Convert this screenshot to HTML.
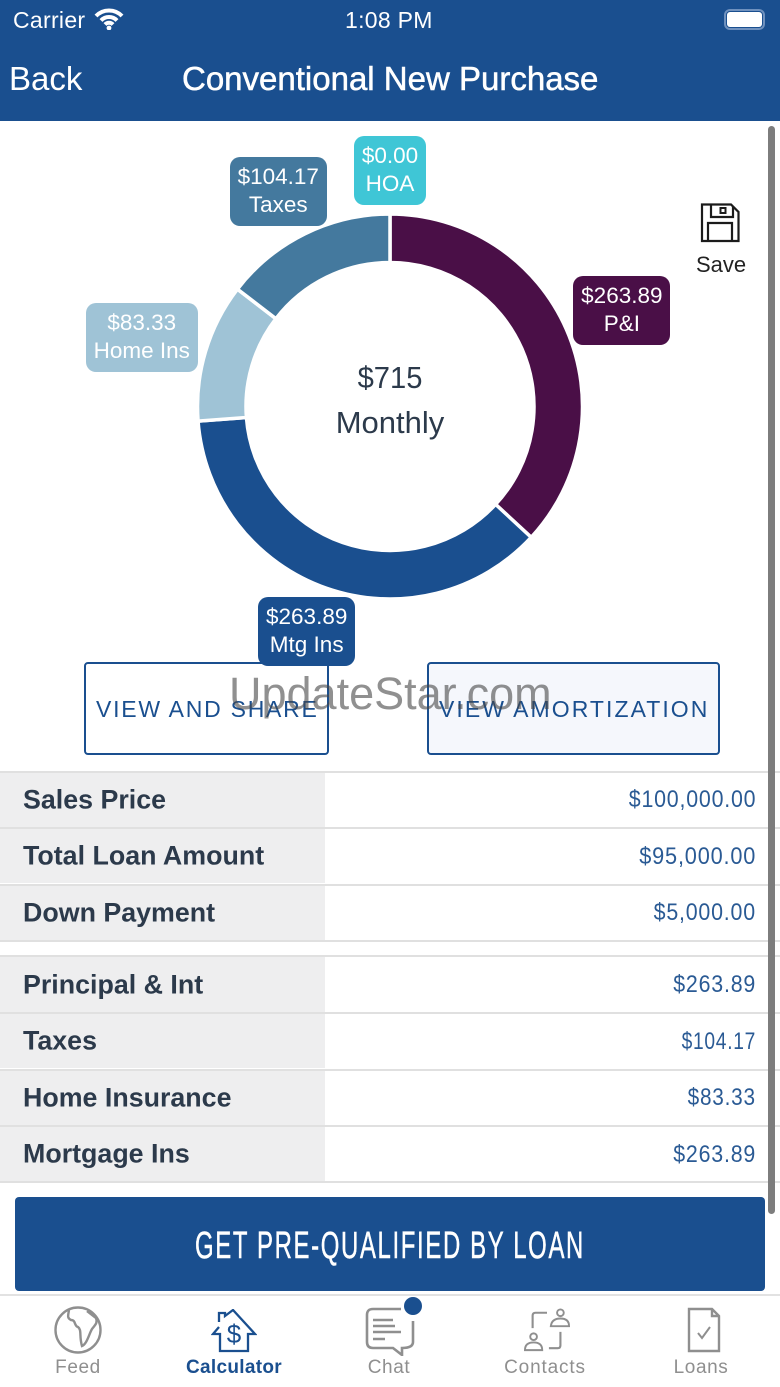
<!DOCTYPE html>
<html lang="en">
<head>
<meta charset="utf-8">
<title>Conventional New Purchase</title>
<style>
html,body{margin:0;padding:0;background:#fff}
body{width:780px;height:1387px;position:relative;overflow:hidden;font-family:"Liberation Sans",sans-serif}
.a{position:absolute;white-space:nowrap}
.row-label{left:0;width:325px;background:#eeeeef}
.row-label span{position:absolute;left:23px;top:50%;transform:translateY(-50%);font-size:26.800px;font-weight:bold;color:#2c3a4b;white-space:nowrap}
.row-value{right:24px;font-size:24px;color:#2a5a94;letter-spacing:.9px;transform-origin:right center;transform:scaleX(.89)}
.line{left:0;width:780px;height:2px;background:#e0e0e0}
.tab{font-size:19px;color:#8f8f8f;text-align:center;letter-spacing:.6px;top:1357px}
.chip{position:absolute;border-radius:10px;color:#fff;text-align:center;font-size:22.500px;line-height:28px;box-sizing:border-box;padding-top:6px;height:69px}
</style>
</head>
<body>

<div class="a" style="left:0;top:0;width:780px;height:121px;background:#1a4f8f"></div>
<div class="a" style="left:13px;top:7px;font-size:23px;color:#fff;letter-spacing:.3px">Carrier</div>
<svg class="a" style="left:94px;top:8px" width="30" height="22" viewBox="0 0 30 22"><path d="M2 8 A18 18 0 0 1 28 8 M7 12.500 A11 11 0 0 1 23 12.500 M11 16.500 A5.500 5.500 0 0 1 19 16.500" fill="none" stroke="#fff" stroke-width="4"/><circle cx="15" cy="20" r="2.400" fill="#fff"/></svg>
<div class="a" style="left:345px;top:7px;font-size:23px;color:#fff;letter-spacing:.3px">1:08 PM</div>
<div class="a" style="left:724px;top:9px;width:41px;height:21px;border:2px solid #6f91be;border-radius:6px;box-sizing:border-box"><div style="position:absolute;left:1px;top:1px;right:1px;bottom:1px;background:#fff;border-radius:3px"></div></div>
<div class="a" style="left:9px;top:60px;font-size:33px;color:#fff">Back</div>
<div class="a" style="left:182px;top:60px;font-size:33px;color:#fff;font-weight:500;-webkit-text-stroke:.5px #fff">Conventional New Purchase</div>

<svg id="chart" class="a" style="left:0;top:121px" width="780" height="560" viewBox="0 121 780 560"></svg>
<div id="chips"></div>
<div class="a" style="left:290px;width:200px;text-align:center;top:360px;font-size:31px;color:#2c3a4b;transform:scaleX(.94)">$715</div>
<div class="a" style="left:290px;width:200px;text-align:center;top:405px;font-size:31px;color:#2c3a4b">Monthly</div>

<svg class="a" style="left:700px;top:203px" width="40" height="40" viewBox="0 0 40 40"><path d="M2 1.500 H31 L38.500 9 V38 H2 Z M11 1.500 V14 H33 V4 M8 38 V20 H32 V38" fill="none" stroke="#1b1b1b" stroke-width="2.200"/><rect x="20.500" y="5" width="5" height="5" fill="none" stroke="#1b1b1b" stroke-width="2"/></svg>
<div class="a" style="left:696px;top:252px;font-size:22px;color:#222">Save</div>

<div class="a" style="left:84px;top:662px;width:245px;height:93px;border:2px solid #1a4f8f;border-radius:4px;box-sizing:border-box"></div>
<div class="a" style="left:96px;top:696px;font-size:23px;color:#1a4f8f;letter-spacing:1.750px">VIEW AND SHARE</div>
<div class="a" style="left:427px;top:662px;width:293px;height:93px;border:2px solid #1a4f8f;border-radius:4px;box-sizing:border-box;background:#f5f7fc"></div>
<div class="a" style="left:439px;top:696px;font-size:23px;color:#1a4f8f;letter-spacing:2.050px">VIEW AMORTIZATION</div>
<div class="a" style="left:229px;top:668px;font-size:45px;color:rgba(70,70,70,.6)">UpdateStar.com</div>

<div class="a row-label" style="top:772px;height:55px"><span>Sales Price</span></div>
<div class="a row-label" style="top:829px;height:54px"><span>Total Loan Amount</span></div>
<div class="a row-label" style="top:885px;height:55px"><span>Down Payment</span></div>
<div class="a row-label" style="top:957px;height:55px"><span>Principal &amp; Int</span></div>
<div class="a row-label" style="top:1014px;height:54px"><span>Taxes</span></div>
<div class="a row-label" style="top:1070px;height:55px"><span>Home Insurance</span></div>
<div class="a row-label" style="top:1127px;height:54px"><span>Mortgage Ins</span></div>

<div class="a line" style="top:770.500px"></div>
<div class="a line" style="top:827px"></div>
<div class="a line" style="top:883.700px"></div>
<div class="a line" style="top:940px"></div>
<div class="a line" style="top:955px"></div>
<div class="a line" style="top:1012px"></div>
<div class="a line" style="top:1068.700px"></div>
<div class="a line" style="top:1125px"></div>
<div class="a line" style="top:1181px"></div>

<div class="a row-value" style="top:786px">$100,000.00</div>
<div class="a row-value" style="top:843px;transform:scaleX(.905)">$95,000.00</div>
<div class="a row-value" style="top:899px;transform:scaleX(.89)">$5,000.00</div>
<div class="a row-value" style="top:971px">$263.89</div>
<div class="a row-value" style="top:1028px;transform:scaleX(.8)">$104.17</div>
<div class="a row-value" style="top:1084px;transform:scaleX(.865)">$83.33</div>
<div class="a row-value" style="top:1141px">$263.89</div>

<div class="a" style="left:768px;top:126px;width:6.500px;height:1088px;border-radius:4px;background:#7d7d7d"></div>

<div class="a" style="left:15px;top:1197px;width:750px;height:94px;background:#1a4f8f;border-radius:4px"></div>
<div class="a" style="left:15px;width:750px;text-align:center;top:1225px;font-size:38px;color:#fff;letter-spacing:2.600px;-webkit-text-stroke:.5px #fff;transform:scaleX(.63)">GET PRE-QUALIFIED BY LOAN</div>

<div class="a" style="left:0;top:1294px;width:780px;height:2px;background:#e2e2e2"></div>
<svg class="a" style="left:54px;top:1306px" width="48" height="48" viewBox="0 0 48 48"><circle cx="24" cy="24" r="22.500" fill="none" stroke="#8f8f8f" stroke-width="2.400"/><path d="M15 4 C14 10 13 12 17 14 C22 14 20 20 24 21 C28 24 25 30 28 40 C33 38 35 28 38 23 C41 19 44 17 42 12 L33 5" fill="none" stroke="#8f8f8f" stroke-width="2.400"/></svg>
<div class="a tab" style="left:38px;width:80px">Feed</div>
<svg class="a" style="left:211px;top:1309px" width="46" height="44" viewBox="0 0 46 44"><path d="M8 13 V4 H14 V7 L22 1 L44 25 H37 V42 H9 V25 H2 L8 18" fill="none" stroke="#1a4f8f" stroke-width="2.300"/><text x="23" y="34" text-anchor="middle" font-size="26" fill="#1a4f8f" font-family="Liberation Sans">$</text></svg>
<div class="a tab" style="left:174px;width:120px;color:#1a4f8f;font-weight:bold;letter-spacing:.3px">Calculator</div>
<svg class="a" style="left:365px;top:1306px" width="52" height="50" viewBox="0 0 52 50"><path d="M36 3 H8 Q2 3 2 9 V36 Q2 42 8 42 H28 L37 49 V42 Q48 42 48 36 V15" fill="none" stroke="#8f8f8f" stroke-width="2.600"/><path d="M8 14 H28 M8 20 H30 M8 26 H36 M8 33 H20" stroke="#8f8f8f" stroke-width="2.400"/></svg>
<div class="a" style="left:404px;top:1297px;width:18px;height:18px;border-radius:50%;background:#1a4f8f"></div>
<div class="a tab" style="left:349px;width:80px">Chat</div>
<svg class="a" style="left:524px;top:1306px" width="46" height="48" viewBox="0 0 48 48"><path d="M24 6 H12 Q9 6 9 9 V22 M38 26 V40 Q38 43 35 43 H26" fill="none" stroke="#8f8f8f" stroke-width="2.200"/><circle cx="38" cy="6" r="3.500" fill="none" stroke="#8f8f8f" stroke-width="2"/><path d="M28 20 Q29 12 38 12 Q47 12 47 20 Z" fill="none" stroke="#8f8f8f" stroke-width="2"/><circle cx="10" cy="31" r="3.500" fill="none" stroke="#8f8f8f" stroke-width="2"/><path d="M1 45 Q1 37 10 37 Q19 37 19 45 Z" fill="none" stroke="#8f8f8f" stroke-width="2"/></svg>
<div class="a tab" style="left:495px;width:100px;letter-spacing:.85px">Contacts</div>
<svg class="a" style="left:687px;top:1307px" width="34" height="46" viewBox="0 0 34 46"><path d="M2 2 H25 L32 9 V44 H2 Z M25 2 V9 H32" fill="none" stroke="#8f8f8f" stroke-width="2.400"/><path d="M11 26 L15 31 L23 20" fill="none" stroke="#8f8f8f" stroke-width="2"/></svg>
<div class="a tab" style="left:661px;width:80px">Loans</div>

<script>
const sliceNames = ['P&I', 'Mtg Ins', 'Home Ins', 'Taxes', 'HOA'];
const sliceValues = [263.89, 263.89, 83.33, 104.17, 0];
const sliceColors = ['#4a0f47', '#1a4f8f', '#9fc3d6', '#44799e', '#3fc6d6'];

const svgNs = 'http://www.w3.org/2000/svg';
const cx = 390, cy = 406.500, outerR = 192.500, innerR = 144;
const chipH = 69;
const total = sliceValues.reduce((s, v) => s + v, 0);
function angleOf(value) { return value / total * 2 * Math.PI; }
function polar(r, a) { return [cx + r * Math.sin(a), cy - r * Math.cos(a)]; }
function chipWidth(name) { return name.length > 7 ? 112 : name === 'HOA' ? 72 : 97; }
function arcPath(a0, a1) {
  const big = a1 - a0 > Math.PI ? 1 : 0;
  const p0 = polar(outerR, a0), p1 = polar(outerR, a1), p2 = polar(innerR, a1), p3 = polar(innerR, a0);
  return 'M' + p0 + ' A' + outerR + ' ' + outerR + ' 0 ' + big + ' 1 ' + p1 +
    ' L' + p2 + ' A' + innerR + ' ' + innerR + ' 0 ' + big + ' 0 ' + p3 + ' Z';
}
const chart = document.getElementById('chart');
const chips = document.getElementById('chips');
let start = 0;
sliceValues.forEach((value, i) => {
  const sweep = angleOf(value);
  const end = start + sweep;
  if (value > 0) {
    const path = document.createElementNS(svgNs, 'path');
    
    
    path.setAttribute('d', arcPath(start, end));
    path.setAttribute('fill', sliceColors[i]);
    path.setAttribute('stroke', '#fff');
    path.setAttribute('stroke-width', '3.500');
    chart.appendChild(path);
  }
  const mid = (start + end) / 2;
  const w = chipWidth(sliceNames[i]);
  const rx = 253 + (w - 97) * 0.4;
  const ry = value > 0 ? 239 : 235.500;
  const chip = document.createElement('div');
  
  
  chip.className = 'chip';
  chip.style.background = sliceColors[i];
  chip.style.width = w + 'px';
  chip.style.left = (cx + rx * Math.sin(mid) - w / 2) + 'px';
  chip.style.top = (cy - 0.500 - ry * Math.cos(mid) - chipH / 2) + 'px';
  const amount = document.createElement('div');
  
  
  amount.textContent = '$' + value.toFixed(2);
  const name = document.createElement('div');
  
  
  name.textContent = sliceNames[i];
  chip.appendChild(amount);
  chip.appendChild(name);
  chips.appendChild(chip);
  start = end;
});
</script>
</body>
</html>
